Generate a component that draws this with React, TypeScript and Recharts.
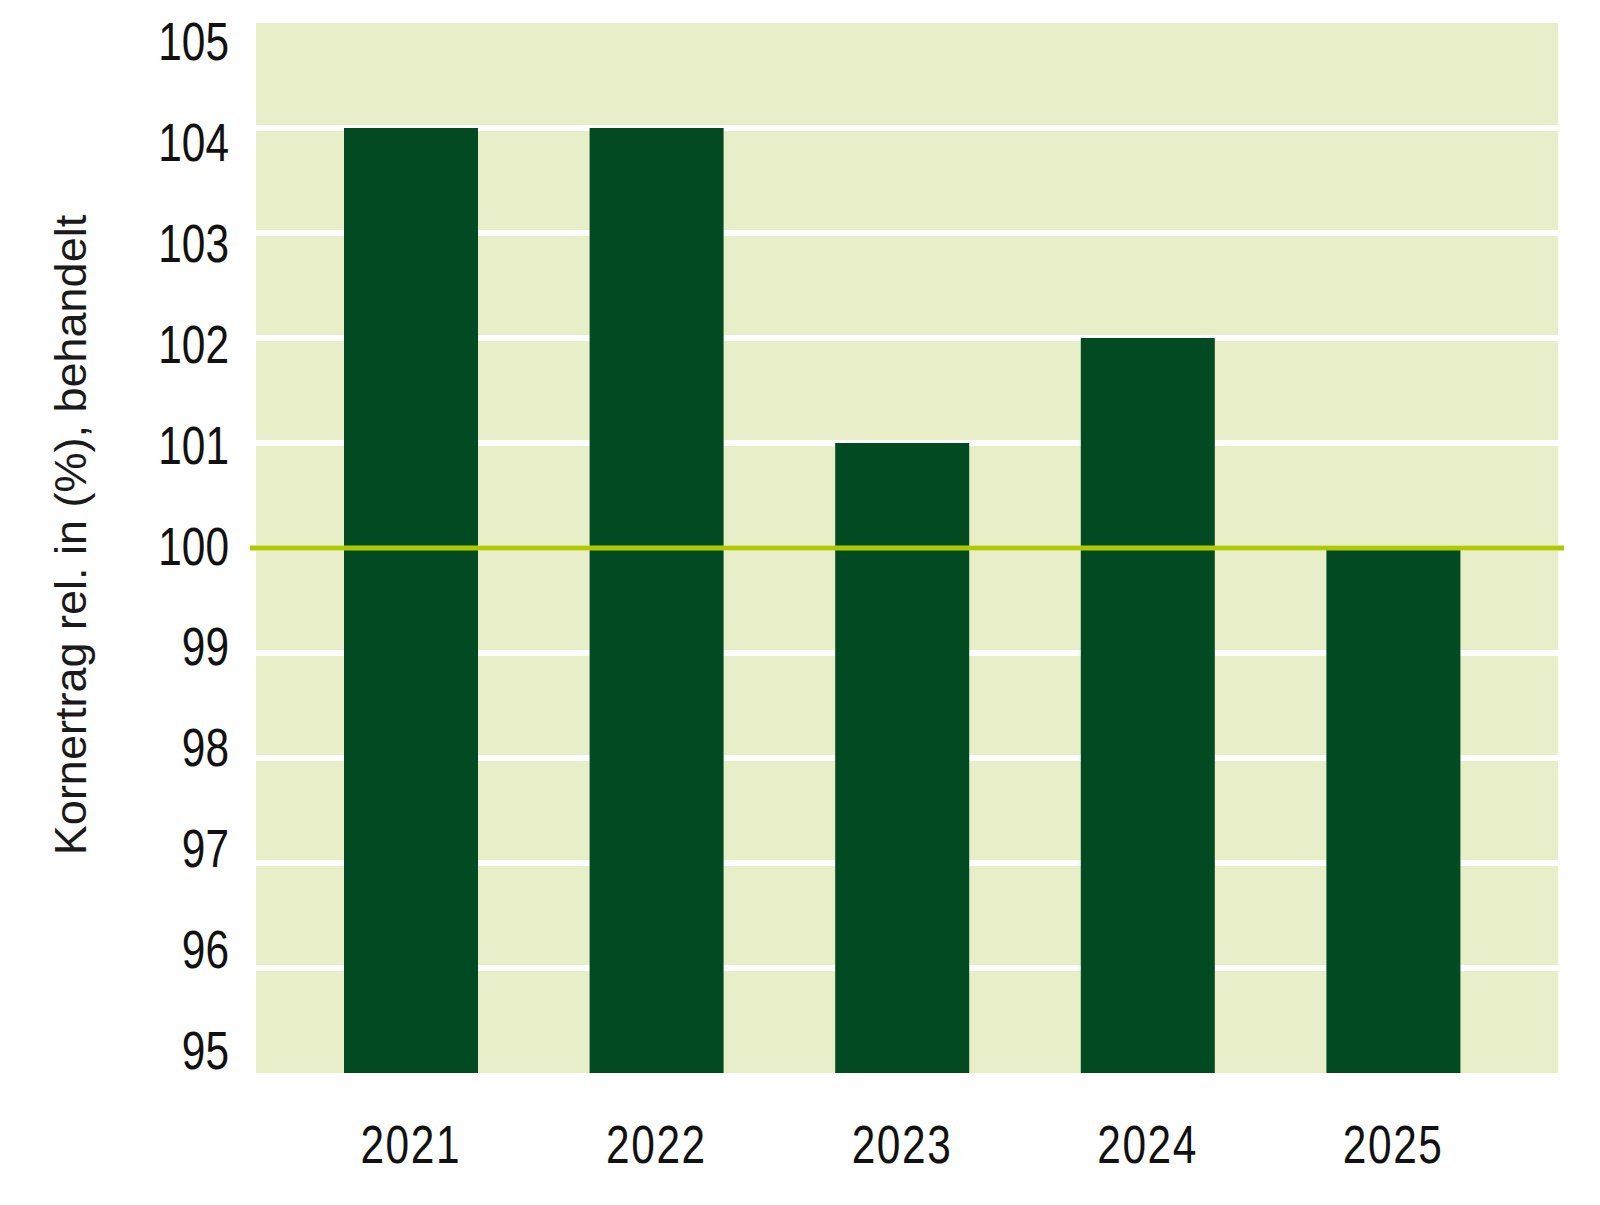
import React from 'react';
import { BarChart, Bar, XAxis, YAxis, CartesianGrid, ReferenceLine } from 'recharts';

const years = ['2021', '2022', '2023', '2024', '2025'];
const yieldValues = [104, 104, 101, 102, 100];
const yTicks = [95, 96, 97, 98, 99, 100, 101, 102, 103, 104, 105];
const gridValues = [96, 97, 98, 99, 100, 101, 102, 103, 104];
const baselineValue = 100;
const yDomain = [95, 105];
const yTitle = 'Kornertrag rel. in (%), behandelt';

const data = years.map((year, i) => ({ year, value: yieldValues[i] }));

const NUM_FONT = "'Liberation Sans', Arial, sans-serif";
const TITLE_FONT = "'Liberation Sans', Arial, 'DejaVu Sans', sans-serif";
const BG = '#e8efc8';
const BAR = '#024a22';
const LIME = '#afc900';
const TEXT = '#111';
const NARROW = 0.8;

const YTick = (props: any) => {
  const { x, y, payload } = props;
  const v = Number(payload.value);
  // labels in the source are slightly compressed toward the centre
  const shift = (v - baselineValue) * 4.1 - 2.5;
  return (
    <g transform={`translate(${x}, ${y + shift + 19}) scale(${NARROW}, 1)`}>
      <text x={0} y={0} textAnchor="end" fill={TEXT} fontSize={53} fontFamily={NUM_FONT}>
        {payload.value}
      </text>
    </g>
  );
};

const XTick = (props: any) => {
  const { x, y, payload } = props;
  return (
    <g transform={`translate(${x}, ${y + 90}) scale(${NARROW}, 1)`}>
      <text x={0} y={0} textAnchor="middle" fill={TEXT} fontSize={53} fontFamily={NUM_FONT} letterSpacing={2}>
        {payload.value}
      </text>
    </g>
  );
};

const TitleLabel = (props: any) => {
  const vb = props.viewBox || { x: 0, y: 0, width: 0, height: 0 };
  const cx = vb.x + 86;
  const cy = vb.y + vb.height / 2 - 13;
  return (
    <text
      x={cx}
      y={cy}
      transform={`rotate(-90, ${cx}, ${cy})`}
      textAnchor="middle"
      fill="#1a1a1a"
      fontSize={45}
      fontFamily={TITLE_FONT}
    >
      {yTitle}
    </text>
  );
};

export default function App() {
  return (
    <div style={{ position: 'absolute', left: 0, top: 0, background: '#fff' }}>
      <BarChart
        width={1600}
        height={1205}
        data={data}
        margin={{ top: 23, right: 42, bottom: 0, left: 0 }}
        barCategoryGap={0}
      >
        <CartesianGrid
          vertical={false}
          horizontal
          horizontalValues={gridValues}
          stroke="#ffffff"
          strokeWidth={6}
          fill={BG}
          fillOpacity={1}
        />
        <XAxis
          dataKey="year"
          type="category"
          axisLine={false}
          tickLine={false}
          tickSize={0}
          tickMargin={0}
          height={132}
          padding={{ left: 32, right: 42 }}
          tick={<XTick />}
          interval={0}
        />
        <YAxis
          type="number"
          domain={yDomain}
          ticks={yTicks}
          allowDataOverflow
          axisLine={false}
          tickLine={false}
          tickSize={0}
          tickMargin={27}
          width={256}
          tick={<YTick />}
          interval={0}
          label={{ content: <TitleLabel /> } as any}
        />
        <Bar dataKey="value" fill={BAR} barSize={134} isAnimationActive={false} />
        <ReferenceLine
          y={baselineValue}
          stroke={LIME}
          strokeWidth={5}
          ifOverflow="visible"
          shape={(p: any) => (
            <line x1={p.x1 - 6} y1={p.y1} x2={p.x2 + 6} y2={p.y2} stroke={LIME} strokeWidth={5} />
          )}
        />
      </BarChart>
    </div>
  );
}
